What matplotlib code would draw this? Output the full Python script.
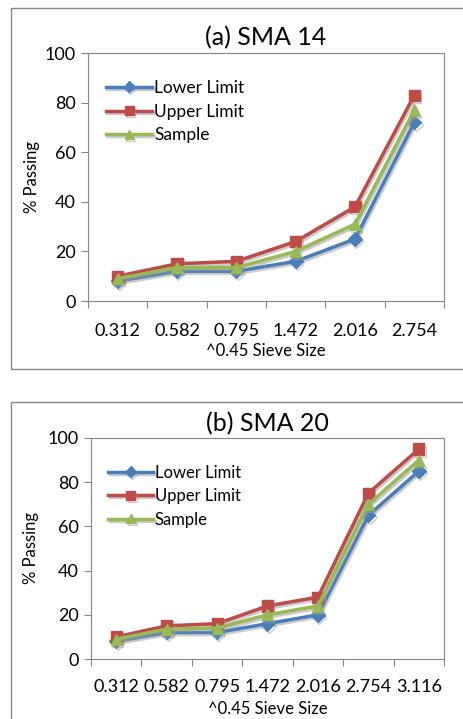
import numpy as np
import matplotlib
matplotlib.use("Agg")
import matplotlib.pyplot as plt
from matplotlib.patches import Rectangle
import matplotlib.patheffects as pe

plt.rcParams['font.family'] = ['Lato', 'DejaVu Sans']

# data
sieve_a = ["0.312", "0.582", "0.795", "1.472", "2.016", "2.754"]
lower_a = [8, 12, 12, 16, 25, 72]
upper_a = [10, 15, 16, 24, 38, 83]
sample_a = [9, 13.5, 13.5, 20, 31, 77]

sieve_b = ["0.312", "0.582", "0.795", "1.472", "2.016", "2.754", "3.116"]
lower_b = [8, 12, 12, 16, 20, 65, 85]
upper_b = [10, 15, 16, 24, 28, 75, 95]
sample_b = [9, 13.5, 14, 20, 24, 70, 90]

W, H = 464, 719
fig = plt.figure(figsize=(W / 100, H / 100), dpi=100)

def px(x0, y0, x1, y1):
    # pixel box -> figure fraction [left, bottom, width, height]
    return [x0 / W, 1 - y1 / H, (x1 - x0) / W, (y1 - y0) / H]

# panel borders
for (x0, y0, x1, y1) in [(11, 8, 470, 369), (11, 402, 470, 730)]:
    fig.patches.append(Rectangle((x0 / W, 1 - y1 / H), (x1 - x0) / W, (y1 - y0) / H,
                                 transform=fig.transFigure, fill=False,
                                 edgecolor="#868686", lw=1.0))

blue, red, green = "#4A7EBB", "#BE4B48", "#98B954"
shadow = [pe.SimpleLineShadow(offset=(1, -1.5), shadow_color="#999999", alpha=0.5), pe.Normal()]


def panel(box, title, labels, lower, upper, sample, title_y, xlab_pad, legend_y, leg_fs, ylab_pad):
    ax = fig.add_axes(px(*box))
    x = np.arange(len(labels))
    ax.plot(x, lower, color=blue, marker="D", ms=7, lw=2.5, label="Lower Limit", path_effects=shadow)
    ax.plot(x, upper, color=red, marker="s", ms=8, lw=2.5, label="Upper Limit", path_effects=shadow)
    ax.plot(x, sample, color=green, marker="^", ms=8, lw=2.5, label="Sample", path_effects=shadow)
    ax.set_xlim(-0.5, len(labels) - 0.5)
    ax.set_ylim(0, 100)
    ax.set_yticks(range(0, 101, 20))
    ax.set_xticks(np.arange(-0.5, len(labels), 1.0))
    ax.set_xticklabels([])
    ax.tick_params(axis="x", direction="out", length=5, color="#868686")
    ax.tick_params(axis="y", direction="out", length=5, color="#868686", labelsize=13, pad=4)
    for i, lab in enumerate(labels):
        ax.text(i, -9, lab, ha="center", va="top", fontsize=13)
    for s in ax.spines.values():
        s.set_color("#868686")
    ax.set_ylabel("% Passing", fontsize=12, labelpad=ylab_pad)
    ax.text(0.5, xlab_pad, "^0.45 Sieve Size", transform=ax.transAxes, ha="center", va="top", fontsize=12)
    ax.text(0.5, title_y, title, transform=ax.transAxes, ha="center", va="bottom", fontsize=18)
    ax.legend(loc="upper left", bbox_to_anchor=(0.03, legend_y), frameon=False, fontsize=leg_fs,
              handlelength=2.7, handletextpad=0.1, labelspacing=0.45, borderaxespad=0,
              markerscale=0.8)
    return ax


panel((88, 53, 444, 301), "(a) SMA 14", sieve_a, lower_a, upper_a, sample_a,
      1.015, -0.17, 0.92, 12.5, 3)
panel((91, 438, 444, 659), "(b) SMA 20", sieve_b, lower_b, upper_b, sample_b,
      1.01, -0.19, 0.91, 12, 6)

fig.savefig("out.png", dpi=100)
